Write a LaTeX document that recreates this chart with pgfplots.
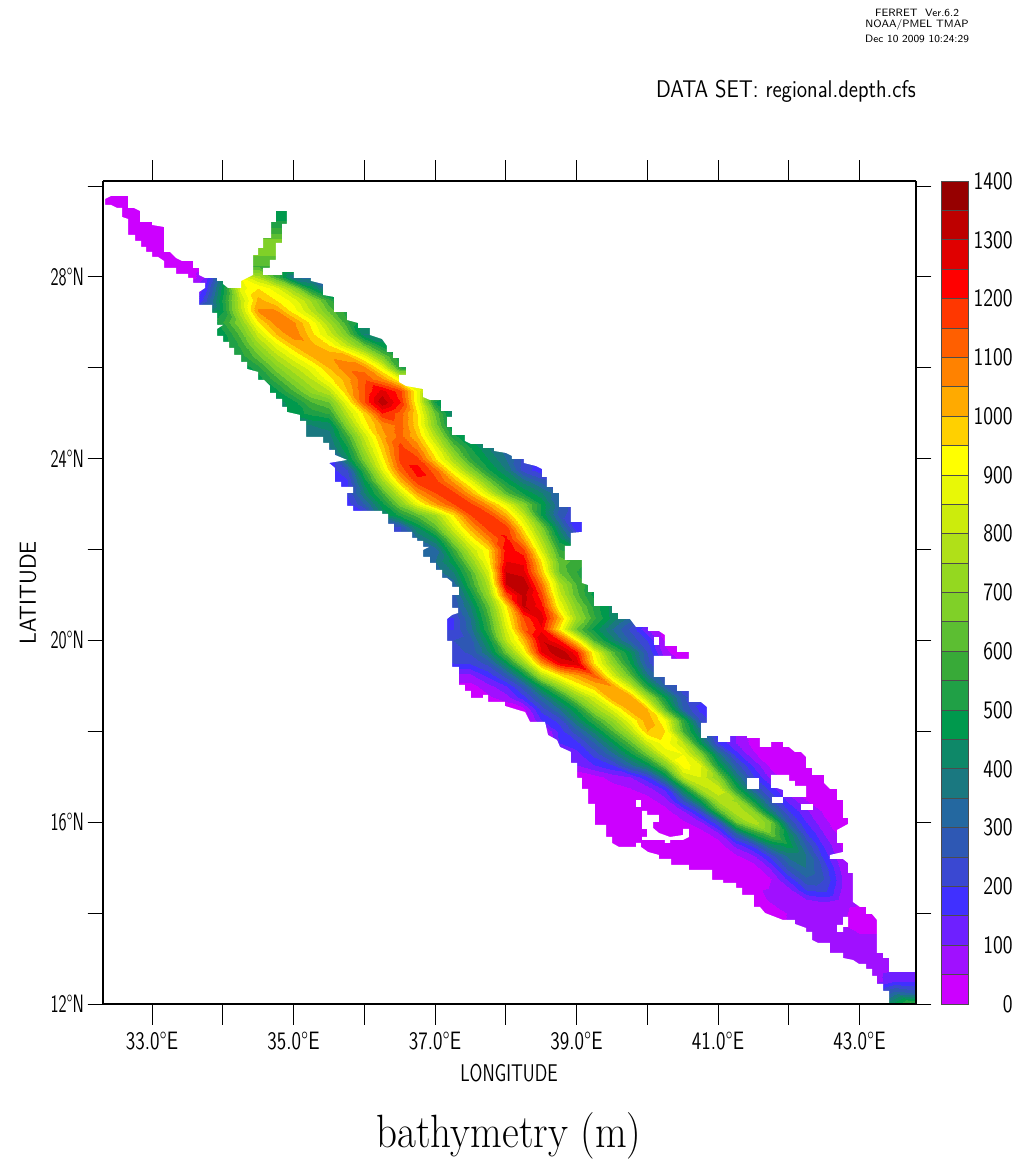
\documentclass[border=0pt]{standalone}
\usepackage{pgfplots}
\pgfplotsset{compat=1.18}
\newcount\cc
\def\coords{}
\newcommand\addp[2]{\pgfmathsetmacro\lon{32.25+0.25*\the\cc}\xdef\coords{\coords(\lon,#1,#2)}\global\advance\cc by 1\relax}
\newcommand\R[3]{\global\cc=0
 \loop\ifnum\cc<#2\relax\addp{#1}{0}\repeat
 \foreach \v in {#3}{\addp{#1}{\v}}
 \loop\ifnum\cc<48\relax\addp{#1}{0}\repeat}
% depth (m) on a grid of 0.25 deg: \R{latitude}{index of first longitude, 32.25 + 0.25 i}{values}
\R{30}{0}{0}
\R{29.75}{0}{0}
\R{29.5}{8}{500,500,500,500,500}
\R{29.25}{8}{500,500,500,500,500}
\R{29}{8}{570,570,570,570,570}
\R{28.75}{8}{700,700,700,700,700}
\R{28.5}{8}{660,660,660,660,660}
\R{28.25}{8}{600,600,600,600,600}
\R{28}{5}{0,100,450,900,780,600,350,320,300}
\R{27.75}{5}{0,170,480,870,950,870,720,480,300}
\R{27.5}{5}{0,230,520,800,1020,950,880,740,560,450}
\R{27.25}{5}{200,400,500,780,1060,1060,930,800,640,520,480}
\R{27}{5}{400,400,550,700,950,1080,1060,930,750,560,450,420}
\R{26.75}{6}{480,480,620,830,1000,1090,970,830,650,400,400,400}
\R{26.5}{6}{480,480,560,730,880,1000,1020,950,800,640,470,450,450}
\R{26.25}{7}{500,520,640,780,890,1000,1040,1020,880,660,500,500}
\R{26}{7}{450,450,530,680,780,880,1000,1090,1080,900,560,450}
\R{25.75}{8}{470,470,580,700,800,930,1030,1140,1060,900,900,650}
\R{25.5}{9}{480,480,600,720,800,1000,1150,1270,1170,900,600,450,400}
\R{25.25}{9}{420,420,480,600,650,900,1150,1340,1200,900,500,400,400}
\R{25}{10}{470,470,520,560,800,970,1200,1130,950,640,400,400}
\R{24.75}{11}{380,400,420,700,920,1060,1120,960,680,430,350,350}
\R{24.5}{11}{370,370,380,580,820,1030,1120,1000,780,520,430,350}
\R{24.25}{12}{350,350,500,760,980,1170,1080,880,640,500,400,320}
\R{24}{12}{200,180,430,680,930,1170,1170,960,760,560,450,350,230}
\R{23.75}{12}{170,170,250,560,860,1120,1230,1120,900,700,510,400,230,170}
\R{23.5}{13}{170,190,470,740,1000,1180,1170,1040,880,660,490,380,280,230}
\R{23.25}{13}{200,210,400,590,830,1040,1150,1170,1030,840,620,500,410,300,200}
\R{23}{13}{170,170,300,480,680,880,1040,1150,1170,1040,880,690,500,300,200,200}
\R{22.75}{14}{150,150,400,520,620,750,950,1150,1180,1020,820,500,280,200,200}
\R{22.5}{15}{180,250,250,450,620,850,1030,1180,1170,930,680,380,160,160}
\R{22.25}{16}{250,250,350,450,720,920,1080,1210,1030,760,470,270,250}
\R{22}{17}{300,300,320,570,800,950,1230,1170,850,560,500,500}
\R{21.75}{18}{350,350,480,700,920,1250,1240,950,630,580,580}
\R{21.5}{18}{320,320,400,600,850,1300,1270,1000,650,550,500,500}
\R{21.25}{19}{320,320,550,780,1300,1350,1100,780,600,500,500}
\R{21}{19}{280,280,470,720,1150,1320,1170,830,620,480,400,400}
\R{20.75}{19}{260,260,400,640,950,1310,1220,900,690,530,430,370,350}
\R{20.5}{18}{200,200,200,350,590,900,1150,1280,1020,750,560,430,330,180,100}
\R{20.25}{18}{200,200,200,330,550,850,1120,1240,950,650,480,350,240,100,20}
\R{20}{19}{250,250,280,470,800,1000,1290,1200,950,600,420,290,200,40}
\R{19.75}{19}{230,230,260,400,650,900,1250,1350,1220,900,620,450,250,60,20}
\R{19.5}{19}{200,200,210,270,460,720,1050,1250,1290,950,720,500,270,120,50}
\R{19.25}{20}{90,90,170,280,470,780,950,1040,1130,850,620,360,250,100}
\R{19}{20}{30,30,80,150,280,500,720,900,1000,1050,820,520,300,220,200}
\R{18.75}{20}{20,20,40,80,180,330,500,700,850,1050,1050,760,480,260,220,200}
\R{18.5}{24}{30,220,350,500,720,860,1030,1000,620,300,180,150}
\R{18.25}{25}{150,220,400,560,720,900,1040,900,550,250,150}
\R{18}{26}{170,280,420,600,780,1000,950,600,370,150,100}
\R{17.75}{26}{150,180,300,450,620,830,930,800,480,200,100,30}
\R{17.5}{26}{100,130,220,330,480,650,870,900,700,380,170,60,5}
\R{17.25}{27}{100,150,200,330,450,680,930,860,500,280,140,30}
\R{17}{28}{30,70,100,190,420,800,850,700,400,210,80,20}
\R{16.75}{29}{30,50,80,170,480,780,830,520,300,170,60,20}
\R{16.5}{31}{30,80,260,500,780,740,480,250,130,50,10}
\R{16.25}{31}{10,30,100,240,600,800,700,380,200,110,40}
\R{16}{33}{40,90,250,650,790,650,290,150,60,20}
\R{15.75}{33}{5,20,80,300,500,640,430,210,100,30}
\R{15.5}{35}{20,120,220,420,480,290,140,40}
\R{15.25}{36}{40,90,220,370,350,180,60}
\R{15}{37}{20,110,280,350,230,80,20}
\R{14.75}{38}{50,170,290,250,100,40}
\R{14.5}{37}{40,60,80,200,220,90,60}
\R{14.25}{38}{55,60,70,100,65,60}
\R{14}{39}{60,60,60,60,30,20}
\R{13.75}{39}{60,60,60,50,20,20}
\R{13.5}{40}{60,60,60,60,60}
\R{13.25}{41}{60,65,65,65}
\R{13}{42}{70,70,70,70}
\R{12.75}{43}{80,80,100,100,100}
\R{12.5}{43}{80,80,150,150,150}
\R{12.25}{44}{200,330,300,300}
\R{12}{44}{480,480,600,600}
\newcommand\field[1]{\addplot3[contour filled={number=28},mesh/cols=48] coordinates {#1};}
\newcommand\Seg[3]{\addplot[draw=black!70,line width=0.6pt,fill=#3] coordinates {(0,#1)(1,#1)(1,#2)(0,#2)} --cycle;}
\definecolor{c0}{RGB}{204,0,255}\definecolor{c1}{RGB}{160,16,255}\definecolor{c2}{RGB}{110,32,255}\definecolor{c3}{RGB}{64,48,255}
\definecolor{c4}{RGB}{58,72,210}\definecolor{c5}{RGB}{46,88,180}\definecolor{c6}{RGB}{36,104,160}\definecolor{c7}{RGB}{26,120,128}
\definecolor{c8}{RGB}{14,136,104}\definecolor{c9}{RGB}{0,153,77}\definecolor{c10}{RGB}{32,160,70}\definecolor{c11}{RGB}{56,170,56}
\definecolor{c12}{RGB}{92,190,50}\definecolor{c13}{RGB}{128,208,40}\definecolor{c14}{RGB}{148,216,32}\definecolor{c15}{RGB}{176,224,24}
\definecolor{c16}{RGB}{204,236,12}\definecolor{c17}{RGB}{232,248,6}\definecolor{c18}{RGB}{255,255,0}\definecolor{c19}{RGB}{255,208,0}
\definecolor{c20}{RGB}{255,170,0}\definecolor{c21}{RGB}{255,130,0}\definecolor{c22}{RGB}{255,95,0}\definecolor{c23}{RGB}{255,55,0}
\definecolor{c24}{RGB}{255,0,0}\definecolor{c25}{RGB}{224,0,0}\definecolor{c26}{RGB}{190,0,0}\definecolor{c27}{RGB}{150,0,0}
\newcommand\lab{\fontsize{14.5}{16}\sffamily}
\newcommand\Tx[1]{\scalebox{1}[1.3]{#1}}
\newcommand\Ty[1]{\scalebox{0.85}[1.3]{#1}}
\newcommand\Tc[1]{\scalebox{1.03}[1.3]{#1}}
\begin{document}
\begin{tikzpicture}
\path[use as bounding box] (0,0) rectangle (765pt,869.25pt);
\begin{axis}[at={(77.25pt,116.25pt)},anchor=south west,scale only axis,width=609.75pt,height=617.25pt,
 xmin=32.3074,xmax=43.7986,ymin=12,ymax=30.11,view={0}{90},axis on top,
 colormap={ferret}{rgb255=(204,0,255) rgb255=(160,16,255) rgb255=(110,32,255) rgb255=(64,48,255) rgb255=(58,72,210) rgb255=(46,88,180) rgb255=(36,104,160) rgb255=(26,120,128) rgb255=(14,136,104) rgb255=(0,153,77) rgb255=(32,160,70) rgb255=(56,170,56) rgb255=(92,190,50) rgb255=(128,208,40) rgb255=(148,216,32) rgb255=(176,224,24) rgb255=(204,236,12) rgb255=(232,248,6) rgb255=(255,255,0) rgb255=(255,208,0) rgb255=(255,170,0) rgb255=(255,130,0) rgb255=(255,95,0) rgb255=(255,55,0) rgb255=(255,0,0) rgb255=(224,0,0) rgb255=(190,0,0) rgb255=(150,0,0)},
 point meta min=0,point meta max=1400,
 tick align=outside,xtick pos=both,ytick pos=both,
 xtick={33,34,35,36,37,38,39,40,41,42,43},
 xticklabels={\Tx{33.0°E},,\Tx{35.0°E},,\Tx{37.0°E},,\Tx{39.0°E},,\Tx{41.0°E},,\Tx{43.0°E}},
 ytick={12,14,16,18,20,22,24,26,28,30},
 yticklabels={\Ty{12°N},,\Ty{16°N},,\Ty{20°N},,\Ty{24°N},,\Ty{28°N},},
 xticklabel pos=lower,yticklabel pos=left,
 xtick style={black,line width=0.7pt,/pgfplots/major tick length=15.5pt},
 ytick style={black,line width=0.7pt,/pgfplots/major tick length=11.5pt},
 ticklabel style={font=\lab},
 xticklabel style={yshift=-13pt},
 yticklabel style={xshift=-6.5pt},
 axis line style={black,line width=0.8pt}]
\expandafter\field\expandafter{\coords}
\addplot[fill=white,draw=none] table[x expr=33+(\thisrow{px}-152)/70.75,y expr=12+(1004-\thisrow{py})/45.44] {
px py
95 202
105 202
105 199
111 196
128 196
128 208
134 208
140 211
140 222
152 222
152 225
164 227
164 252
170 252
176 258
182 261
193 261
193 268
199 268
199 275
205 278
217 278
217 281
223 281
223 284
228 288
241 288
241 281
247 278
253 275
253 255
258 255
258 248
263 248
263 238
271 238
271 222
276 222
276 211
287 211
287 224
282 224
282 243
276 243
276 260
270 260
270 268
263 268
263 275
282 275
282 272
294 272
294 278
311 278
311 281
323 284
323 295
334 297
334 312
347 312
347 320
358 323
358 328
370 328
370 335
382 339
387 346
387 352
393 352
393 358
399 358
399 367
406 367
406 375
399 375
399 382
406 386
423 389
423 397
430 400
441 400
441 411
452 411
452 417
447 417
447 427
452 427
452 435
465 435
465 441
471 444
483 444
483 448
494 448
494 451
506 453
512 456
512 459
524 459
524 463
536 466
542 469
542 477
547 477
547 487
553 487
553 493
559 493
559 507
571 507
571 522
582 522
582 532
571 533
571 546
565 546
565 560
582 560
582 583
588 585
588 592
594 592
594 606
612 606
612 613
618 613
618 619
630 619
636 627
648 627
648 631
659 631
665 635
665 646
677 646
677 652
689 652
689 659
671 659
671 656
654 656
654 677
665 677
665 685
677 685
677 691
689 691
689 702
701 702
707 707
707 723
701 723
701 738
707 738
707 736
718 736
718 742
730 742
730 736
747 736
747 738
760 738
760 747
771 747
771 742
783 742
783 747
789 747
795 752
801 752
806 757
806 768
812 768
812 775
824 775
824 783
830 789
837 789
837 800
843 800
843 818
848 818
848 824
837 830
837 843
843 843
843 852
830 855
830 859
843 859
848 863
848 873
853 873
853 902
860 907
866 907
866 914
872 914
877 920
877 953
883 953
883 958
889 958
889 972
925 972
925 170
95 170
};
\addplot[fill=white,draw=none] table[x expr=33+(\thisrow{px}-152)/70.75,y expr=12+(1004-\thisrow{py})/45.44] {
px py
95 202
105 202
105 205
111 205
117 208
122 208
122 217
128 219
128 235
135 235
135 241
141 241
141 247
146 247
146 252
152 252
152 257
158 257
164 261
164 268
176 268
176 274
188 274
188 278
193 278
193 283
205 283
205 288
199 292
199 305
212 305
212 313
217 313
217 325
223 325
217 329
217 336
223 336
223 342
229 342
229 348
234 348
234 355
241 355
241 362
247 362
247 369
258 372
258 380
264 380
270 386
270 393
276 393
276 399
282 399
282 407
287 407
287 412
300 415
300 421
306 421
306 437
323 437
323 443
329 443
329 450
335 450
335 455
347 460
329 463
335 468
335 482
341 482
341 487
353 487
353 493
347 493
347 506
353 506
353 511
382 511
382 514
388 514
388 524
394 524
394 532
412 532
412 538
417 538
417 541
423 541
423 547
429 547
423 550
423 557
430 557
430 563
436 563
436 570
442 570
442 578
447 578
452 582
452 587
459 587
459 595
452 595
452 608
458 608
458 613
452 615
447 619
447 641
452 641
452 667
459 667
459 685
465 685
465 691
471 691
471 698
483 698
483 695
488 695
488 702
505 702
505 706
518 710
525 712
530 722
545 722
548 735
557 740
560 747
571 752
571 763
577 763
577 778
582 778
582 789
588 789
588 804
595 804
595 825
606 825
606 837
612 837
612 843
619 847
636 847
636 843
641 843
641 847
648 852
659 855
659 859
671 859
671 865
689 865
689 870
712 870
712 880
723 880
723 883
736 883
736 888
742 888
742 895
754 895
754 907
760 907
765 913
783 920
795 920
795 924
806 928
806 932
812 932
812 940
818 943
830 943
830 953
843 953
843 958
853 960
859 964
866 964
866 969
872 969
872 976
877 976
877 984
883 984
883 991
889 991
889 1003
883 1003
883 1012
95 1012
};
\addplot[fill=white,draw=none] table[x expr=33+(\thisrow{px}-152)/70.75,y expr=12+(1004-\thisrow{py})/45.44] {
px py
654 637
659 637
659 645
654 645
};
\addplot[fill=white,draw=none] table[x expr=33+(\thisrow{px}-152)/70.75,y expr=12+(1004-\thisrow{py})/45.44] {
px py
747 778
759 778
759 789
747 789
};
\addplot[fill=white,draw=none] table[x expr=33+(\thisrow{px}-152)/70.75,y expr=12+(1004-\thisrow{py})/45.44] {
px py
771 775
789 775
789 781
795 781
795 786
806 786
806 797
783 797
783 790
777 788
771 788
};
\addplot[fill=white,draw=none] table[x expr=33+(\thisrow{px}-152)/70.75,y expr=12+(1004-\thisrow{py})/45.44] {
px py
772 797
783 797
783 803
772 803
};
\addplot[fill=white,draw=none] table[x expr=33+(\thisrow{px}-152)/70.75,y expr=12+(1004-\thisrow{py})/45.44] {
px py
801 804
813 804
813 810
801 810
};
\addplot[fill=white,draw=none] table[x expr=33+(\thisrow{px}-152)/70.75,y expr=12+(1004-\thisrow{py})/45.44] {
px py
636 800
641 800
641 807
636 807
};
\addplot[fill=white,draw=none] table[x expr=33+(\thisrow{px}-152)/70.75,y expr=12+(1004-\thisrow{py})/45.44] {
px py
642 811
647 811
647 815
659 815
659 822
653 822
653 828
659 833
670 837
683 835
683 829
689 829
689 837
683 840
670 840
670 843
665 843
665 840
642 840
642 837
647 837
647 829
642 829
};
\addplot[fill=white,draw=none] table[x expr=33+(\thisrow{px}-152)/70.75,y expr=12+(1004-\thisrow{py})/45.44] {
px py
843 917
848 917
848 927
843 927
843 932
837 932
837 925
843 925
};
\end{axis}
\begin{axis}[at={(705.75pt,116.25pt)},anchor=south west,scale only axis,width=20.25pt,height=617.25pt,
 xmin=0,xmax=1,ymin=0,ymax=1400,xtick=\empty,axis on top,
 ytick={0,100,200,300,400,500,600,700,800,900,1000,1100,1200,1300,1400},
 yticklabels={\Tc{0},\Tc{100},\Tc{200},\Tc{300},\Tc{400},\Tc{500},\Tc{600},\Tc{700},\Tc{800},\Tc{900},\Tc{1000},\Tc{1100},\Tc{1200},\Tc{1300},\Tc{1400}},
 yticklabel pos=right,ytick style={draw=none},
 yticklabel style={font=\lab,anchor=east,xshift=37pt},
 axis line style={black!70,line width=0.6pt}]
\Seg{0}{50}{c0}\Seg{50}{100}{c1}\Seg{100}{150}{c2}\Seg{150}{200}{c3}
\Seg{200}{250}{c4}\Seg{250}{300}{c5}\Seg{300}{350}{c6}\Seg{350}{400}{c7}
\Seg{400}{450}{c8}\Seg{450}{500}{c9}\Seg{500}{550}{c10}\Seg{550}{600}{c11}
\Seg{600}{650}{c12}\Seg{650}{700}{c13}\Seg{700}{750}{c14}\Seg{750}{800}{c15}
\Seg{800}{850}{c16}\Seg{850}{900}{c17}\Seg{900}{950}{c18}\Seg{950}{1000}{c19}
\Seg{1000}{1050}{c20}\Seg{1050}{1100}{c21}\Seg{1100}{1150}{c22}\Seg{1150}{1200}{c23}
\Seg{1200}{1250}{c24}\Seg{1250}{1300}{c25}\Seg{1300}{1350}{c26}\Seg{1350}{1400}{c27}
\end{axis}
\begin{scope}[shift={(0,869.25pt)},x=0.75pt,y=-0.75pt]
\node[font=\lab,inner sep=0pt] at (509,1073) {\scalebox{0.92}[1.25]{LONGITUDE}};
\node[font=\lab,rotate=90,inner sep=0pt] at (28,593) {\scalebox{1.15}[1.2]{LATITUDE}};
\node[font=\lab,anchor=east,inner sep=0pt] at (916,91) {\scalebox{1.09}[1.25]{DATA SET: regional.depth.cfs}};
\node[font=\fontsize{8}{9}\sffamily,inner sep=0pt] at (917,13) {FERRET\ \ Ver.6.2};
\node[font=\fontsize{8}{9}\sffamily,inner sep=0pt] at (917,25) {NOAA/PMEL TMAP};
\node[font=\fontsize{8}{9}\sffamily,inner sep=0pt] at (917,39) {Dec 10 2009 10:24:29};
\node[inner sep=0pt,font=\fontsize{28}{32}\selectfont] at (509,1136) {\scalebox{1.1}[1.25]{bathymetry (m)}};
\end{scope}
\end{tikzpicture}
\end{document}
